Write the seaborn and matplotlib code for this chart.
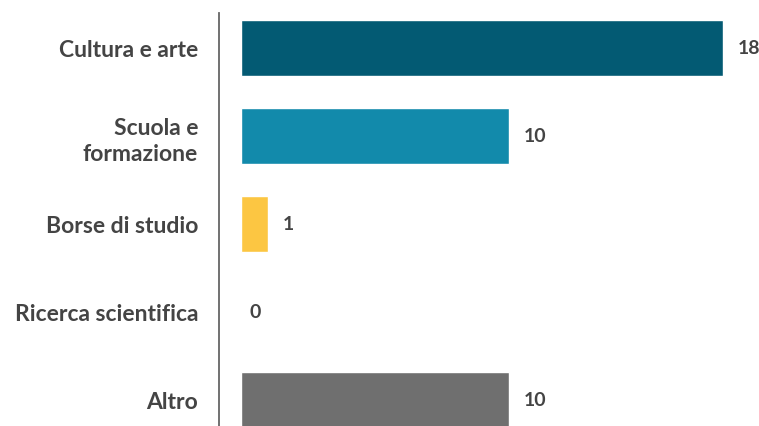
import matplotlib
matplotlib.use("Agg")
import matplotlib.pyplot as plt
import seaborn as sns
import pandas as pd

categories = ["Cultura e arte", "Scuola e\nformazione", "Borse di studio", "Ricerca scientifica", "Altro"]
values = [18, 10, 1, 0, 10]
colors = ["#035a73", "#128aab", "#fcc642", "#1a7f9c", "#6f6f6f"]

sns.set_theme(style="white")
plt.rcParams['font.family'] = ['Lato', 'DejaVu Sans']

W, H = 759, 427
fig = plt.figure(figsize=(W / 100, H / 100), dpi=100)
ax = fig.add_axes([219 / W, 0, (W - 219) / W, (427 - 14) / H])

df = pd.DataFrame({"cat": categories, "val": values})
sns.barplot(data=df, y="cat", x="val", hue="cat", palette=colors, legend=False,
            orient="h", width=0.636, ax=ax, saturation=1)

px_per_unit = 26.75
ax.set_xlim(-22 / px_per_unit, (W - 241) / px_per_unit)
ax.set_ylim(4 + 26 / 88, -35 / 88)

for i, v in enumerate(values):
    ax.annotate(str(v), xy=(v, i), xytext=(11 if v > 0 else 6, 0), textcoords="offset points",
                va="center", ha="left", fontsize=14, fontweight="bold", color="#444444")

ax.set_xlabel("")
ax.set_ylabel("")
ax.set_xticks([])
for s in ["top", "right", "bottom"]:
    ax.spines[s].set_visible(False)
ax.spines["left"].set_color("#666666")
ax.spines["left"].set_linewidth(1.3)
ax.tick_params(axis="y", length=0, pad=15)
for lbl in ax.get_yticklabels():
    lbl.set_fontsize(16.5)
    lbl.set_fontweight("bold")
    lbl.set_color("#444444")
    lbl.set_linespacing(1.3)

fig.savefig("out.png", dpi=100)
